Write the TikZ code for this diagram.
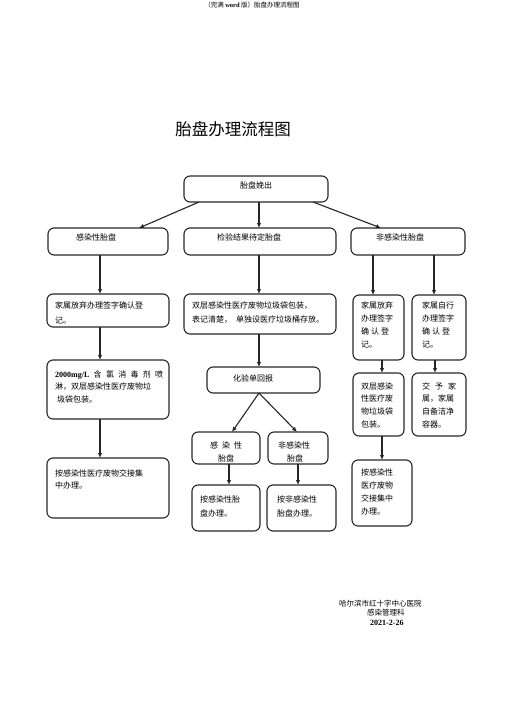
\documentclass[tikz,border=0pt]{standalone}
\usepackage{fontspec}
\setmainfont{Noto Sans CJK SC}
\newfontfamily\lat{Liberation Serif}
\usetikzlibrary{arrows.meta}
\newcommand\mybox[5]{\node[bx,minimum width={(#4-#2)*1pt},minimum height={(#5-#3)*1pt}] (#1) at ({(#2+#4)/2},{(#3+#5)/2}) {};}
\begin{document}
\begin{tikzpicture}[x=1pt,y=-1pt,
  bx/.style={draw=black!85, line width=1.1pt, rounded corners=6pt, inner sep=0pt, outer sep=0pt},
  arr/.style={draw=black!85, line width=1.1pt, -{Latex[length=5pt,width=4.5pt]}},
  tx/.style={anchor=base west, inner sep=0pt, align=left, text width=200pt, font=\fontsize{8}{13.5}\selectfont},
  one/.style={anchor=west, inner sep=0pt, font=\fontsize{8}{10}\selectfont}]
\useasboundingbox (0,0) rectangle (505,714);
% header and title
\node[anchor=center, inner sep=0pt, font=\fontsize{6.5}{8}\selectfont] (hd) at (252,5) {（完满 {\lat\textbf{word}} 版）胎盘办理流程图};
\node[anchor=center, inner sep=0pt, font=\fontsize{16.5}{20}\selectfont] (title) at (233,129) {胎盘办理流程图};
% boxes
\mybox{T}{184}{176}{328}{202}
\mybox{B1}{48}{228}{168}{255}
\mybox{B2}{184}{228}{336}{255}
\mybox{B3}{351}{228}{465}{255}
\mybox{L1}{47}{294}{169}{327}
\mybox{L2}{47}{360}{169}{419}
\mybox{L3}{47}{458}{169}{518}
\mybox{M1}{184}{294}{336}{334}
\mybox{M2}{207}{367}{320}{393}
\mybox{M3}{192}{432}{260}{464}
\mybox{M4}{268}{432}{328}{464}
\mybox{M5}{192}{485}{260}{531}
\mybox{M6}{267}{485}{336}{531}
\mybox{R1}{353}{295}{404}{360}
\mybox{R2}{412}{295}{466}{360}
\mybox{R3}{353}{373}{404}{436}
\mybox{R4}{412}{373}{466}{436}
\mybox{R5}{352}{460}{412}{526}
% texts
\node[one] (tT) at (240,185) {胎盘娩出};
\node[one] (tB1) at (76,237) {感染性胎盘};
\node[one] (tB2) at (217,237) {检验结果待定胎盘};
\node[one] (tB3) at (376,237) {非感染性胎盘};
\node[tx, font=\fontsize{8}{15}\selectfont] (tL1) at (55,308) {家属放弃办理签字确认登\\记。};
\node[tx, font=\fontsize{8}{14}\selectfont] (tM1) at (192,308) {双层感染性医疗废物垃圾袋包装，\\表记清楚，\hspace{4pt}单独设医疗垃圾桶存放。};
\node[tx, font=\fontsize{8}{12.5}\selectfont] (tL2) at (55,377) {\makebox[108pt][s]{{\lat\textbf{2000mg/L}}\hfill 含\hfill 氯\hfill 消\hfill 毒\hfill 剂\hfill 喷}\\淋，双层感染性医疗废物垃\\\hspace*{2pt}圾袋包装。};
\node[one] (tM2) at (233,378) {化验单回报};
\node[tx, font=\fontsize{8}{12.5}\selectfont] (tL3) at (55,476) {按感染性医疗废物交接集\\中办理。};
\node[tx, font=\fontsize{8}{13}\selectfont] (tM3) at (210,448) {\makebox[32pt][s]{感\hfill 染\hfill 性}\\\hspace*{8pt}胎盘};
\node[tx, font=\fontsize{8}{13}\selectfont] (tM4) at (278,448) {非感染性\\\hspace*{9pt}胎盘};
\node[tx, font=\fontsize{8}{14}\selectfont] (tM5) at (200,502) {按感染性胎\\盘办理。};
\node[tx, font=\fontsize{8}{14}\selectfont] (tM6) at (277,502) {按非感染性\\胎盘办理。};
\node[tx, font=\fontsize{8}{13.3}\selectfont] (tR1) at (361,308) {家属放弃\\办理签字\\\makebox[28pt][s]{确\hfill 认\hfill 登}\\记。};
\node[tx, font=\fontsize{8}{13.3}\selectfont] (tR2) at (422,308) {家属自行\\办理签字\\\makebox[28pt][s]{确\hfill 认\hfill 登}\\记。};
\node[tx, font=\fontsize{8}{12.7}\selectfont] (tR3) at (361,389) {双层感染\\性医疗废\\物垃圾袋\\包装。};
\node[tx, font=\fontsize{8}{12.7}\selectfont] (tR4) at (422,389) {\makebox[34pt][s]{交\hfill 予\hfill 家}\\属，家属\\自备洁净\\容器。};
\node[tx, font=\fontsize{8}{13.3}\selectfont] (tR5) at (361,475) {按感染性\\医疗废物\\交接集中\\办理。};
% footer
\node[one, font=\fontsize{7.5}{9}\selectfont] (f1) at (339,604) {哈尔滨市红十字中心医院};
\node[one, font=\fontsize{7.5}{9}\selectfont] (f2) at (367,613) {感染管理科};
\node[one, font=\fontsize{8}{9}\lat\bfseries] (f3) at (370,623) {2021-2-26};
% arrows
\draw[arr] ([xshift=-57pt]T.south) -- ([xshift=31pt]B1.north);
\draw[arr] ([xshift=3pt]T.south) -- ([xshift=-1pt]B2.north);
\draw[arr] ([xshift=57pt]T.south) -- ([xshift=-27pt]B3.north);
\draw[arr] ([xshift=-8pt]B1.south) -- ([xshift=-8pt]L1.north);
\draw[arr] ([xshift=-8pt]L1.south) -- ([xshift=-8pt]L2.north);
\draw[arr] ([xshift=-8pt]L2.south) -- ([xshift=-8pt]L3.north);
\draw[arr] ([xshift=-1pt]B2.south) -- ([xshift=-1pt]M1.north);
\draw[arr] ([xshift=-1pt]M1.south) -- ([xshift=-4.5pt]M2.north);
\draw[arr] ([xshift=-4.5pt]M2.south) -- ([xshift=6pt]M3.north);
\draw[arr] ([xshift=-4.5pt]M2.south) -- ([xshift=-1pt]M4.north);
\draw[arr] ([xshift=3pt]M3.south) -- ([xshift=3pt]M5.north);
\draw[arr] (M4.south) -- ([xshift=-3.5pt]M6.north);
\draw[arr] ([xshift=-35pt]B3.south) -- ([xshift=-5.5pt]R1.north);
\draw[arr] ([xshift=26pt]B3.south) -- ([xshift=-5pt]R2.north);
\draw[arr] ([xshift=3.5pt]R1.south) -- ([xshift=3.5pt]R3.north);
\draw[arr] ([xshift=-4pt]R2.south) -- ([xshift=-4pt]R4.north);
\draw[arr] ([xshift=3.5pt]R3.south) -- (R5.north);
\end{tikzpicture}
\end{document}
